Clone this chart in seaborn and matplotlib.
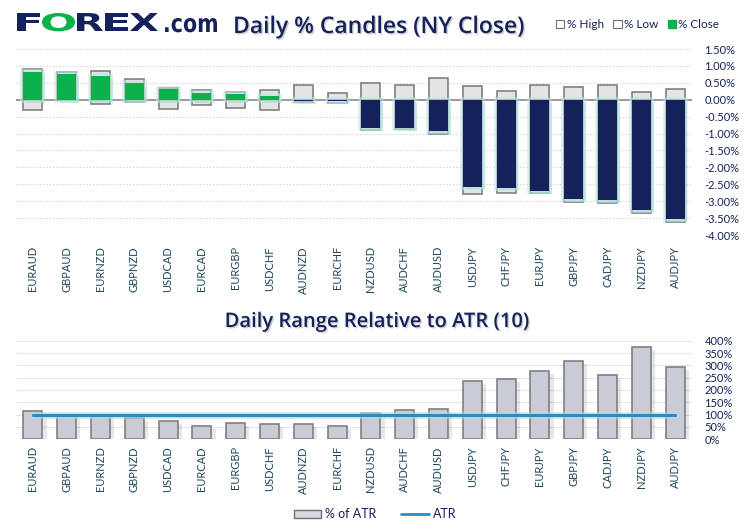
import numpy as np
import pandas as pd
import matplotlib
matplotlib.use("Agg")
import matplotlib.pyplot as plt
import matplotlib.patheffects as pe
from matplotlib.patches import Patch, PathPatch
from matplotlib.lines import Line2D
from matplotlib.textpath import TextPath
from matplotlib.font_manager import FontProperties
from matplotlib.transforms import Affine2D, IdentityTransform
import seaborn as sns

# -----------------------------
# Data
# -----------------------------
pairs = ["EURAUD", "GBPAUD", "EURNZD", "GBPNZD", "USDCAD", "EURCAD", "EURGBP",
         "USDCHF", "AUDNZD", "EURCHF", "NZDUSD", "AUDCHF", "AUDUSD", "USDJPY",
         "CHFJPY", "EURJPY", "GBPJPY", "CADJPY", "NZDJPY", "AUDJPY"]
pct_high = [0.92, 0.83, 0.86, 0.62, 0.36, 0.30, 0.24, 0.30, 0.44, 0.21,
            0.50, 0.44, 0.65, 0.41, 0.26, 0.44, 0.39, 0.44, 0.24, 0.33]
pct_low = [-0.30, -0.02, -0.12, -0.06, -0.27, -0.15, -0.24, -0.30, -0.06, -0.11,
           -0.89, -0.86, -1.01, -2.79, -2.77, -2.76, -3.01, -3.05, -3.35, -3.61]
pct_close = [0.83, 0.75, 0.70, 0.50, 0.33, 0.21, 0.17, 0.11, -0.04, -0.04,
             -0.84, -0.84, -0.92, -2.57, -2.60, -2.71, -2.94, -2.96, -3.25, -3.53]
pct_of_atr = [115, 100, 98, 85, 75, 55, 67, 63, 63, 55,
              107, 117, 122, 235, 243, 276, 316, 259, 373, 292]
atr_level = 100

top_ticks = np.arange(-4.0, 1.51, 0.5)
bottom_ticks = np.arange(0, 401, 50)

NAVY = "#14215a"
GREEN = "#0db14b"
TEAL_TXT = "#1d4658"
BOX_FILL = "#e4e4e4"
BOX_EDGE = "#808080"
ATR_BAR = "#c9cbd6"
ATR_LINE = "#2b8cc4"

W, H = 745, 532

sns.set_theme(style="white")
plt.rcParams["font.family"] = ["Lato", "DejaVu Sans"]

df = pd.DataFrame({"pair": pairs, "high": pct_high, "low": pct_low,
                   "close": pct_close, "atr": pct_of_atr})
df["dir"] = np.where(df["close"] >= 0, "up", "down")

fig = plt.figure(figsize=(W / 100, H / 100), dpi=100)
ax1 = fig.add_axes([16 / W, 1 - 235 / H, 676 / W, 186 / H])
ax2 = fig.add_axes([16 / W, 1 - 439.3 / H, 676 / W, 98.6 / H])

# -----------------------------
# Top: daily % candles
# -----------------------------
bw = 0.56
for col in ["high", "low"]:
    sns.barplot(data=df, x="pair", y=col, ax=ax1, color=BOX_FILL, width=bw,
                edgecolor=BOX_EDGE, linewidth=1.2, saturation=1, errorbar=None)
n_box = len(ax1.patches)
sns.barplot(data=df, x="pair", y="close", hue="dir", ax=ax1,
            palette={"up": GREEN, "down": NAVY}, width=bw, dodge=False,
            linewidth=0, saturation=1, errorbar=None, legend=False)
glow = [pe.SimplePatchShadow(offset=(2, -2), shadow_rgbFace="#7ccfc4", alpha=0.45),
        pe.withStroke(linewidth=4, foreground="#bfe7e1", alpha=0.6), pe.Normal()]
for p in ax1.patches[n_box:]:
    p.set_path_effects(glow)

ax1.axhline(0, color="#808080", lw=1.1, zorder=0.5)
ax1.set_ylim(-4.0, 1.5)
ax1.set_xlim(-0.5, len(pairs) - 0.5)
ax1.set_yticks(top_ticks)
ax1.set_yticklabels([f"{v:.2f}%" for v in top_ticks])
ax1.yaxis.tick_right()
for v in top_ticks:
    if abs(v) > 1e-9:
        ax1.axhline(v, color="#c8c8c8", lw=0.8, ls=(0, (1, 2)), zorder=0)
ax1.tick_params(axis="y", length=0, pad=9, labelsize=8, labelcolor=NAVY)
ax1.tick_params(axis="x", length=0, pad=8, labelsize=8, labelcolor=TEAL_TXT,
                labelrotation=90)
ax1.set_xlabel("")
ax1.set_ylabel("")
for s in ax1.spines.values():
    s.set_visible(False)

# -----------------------------
# Bottom: range relative to ATR
# -----------------------------
sns.barplot(data=df, x="pair", y="atr", ax=ax2, color=ATR_BAR, width=bw,
            edgecolor=BOX_EDGE, linewidth=1.2, saturation=1, errorbar=None)
for p in ax2.patches:
    p.set_path_effects([pe.SimplePatchShadow(offset=(3, -2), alpha=0.12), pe.Normal()])
sns.lineplot(x=np.arange(len(pairs)), y=[atr_level] * len(pairs), ax=ax2,
             color=ATR_LINE, lw=2.2, zorder=5,
             path_effects=[pe.withStroke(linewidth=5, foreground="#bcd9ea", alpha=0.6), pe.Normal()])
ax2.set_ylim(0, 400)
ax2.set_xlim(-0.5, len(pairs) - 0.5)
ax2.set_yticks(bottom_ticks)
ax2.set_yticklabels([f"{v:d}%" for v in bottom_ticks])
ax2.yaxis.tick_right()
ax2.grid(axis="y", color="#e6e6e6", lw=0.8)
ax2.set_axisbelow(True)
ax2.tick_params(axis="y", length=0, pad=9, labelsize=8, labelcolor=NAVY)
ax2.tick_params(axis="x", length=0, pad=5, labelsize=8, labelcolor=TEAL_TXT,
                labelrotation=90)
ax2.set_xlabel("")
ax2.set_ylabel("")
for s in ax2.spines.values():
    s.set_visible(False)

# -----------------------------
# Logo: letters stretched into their boxes (pixel coords, top-left origin)
# -----------------------------
logo_font = FontProperties(family="DejaVu Sans", weight="bold")


def logo_glyph(text, x0, x1, y_top, y_base, colour):
    tp = TextPath((0, 0), text, size=30, prop=logo_font)
    ext = tp.get_extents()
    sx = (x1 - x0) / ext.width
    sy = (y_base - y_top) / ext.ymax
    tr = Affine2D().translate(-ext.x0, 0).scale(sx, sy).translate(x0, H - y_base)
    fig.patches.append(PathPatch(tr.transform_path(tp), facecolor=colour, lw=0,
                                 transform=IdentityTransform(), figure=fig))


logo_glyph("F", 17, 40, 13, 31, NAVY)
logo_glyph("O", 42, 75, 13, 31, GREEN)
logo_glyph("R", 77, 103, 13, 31, NAVY)
logo_glyph("E", 105, 128, 13, 31, NAVY)
logo_glyph("X", 130, 158, 13, 31, NAVY)
logo_glyph(".com", 165, 217, 18, 32, NAVY)

# -----------------------------
# Titles, legends
# -----------------------------
shadow = [pe.withSimplePatchShadow(offset=(1, -1), alpha=0.2)]
fig.text(233 / W, 1 - 27 / H, "Daily % Candles (NY Close)", ha="left",
         va="center", fontsize=16.5, fontweight="semibold", color=NAVY,
         family=["Open Sans", "DejaVu Sans"], path_effects=shadow)
fig.text(377 / W, 1 - 322 / H, "Daily Range Relative to ATR (10)", ha="center",
         va="center", fontsize=14.5, fontweight="semibold", color=NAVY,
         family=["Open Sans", "DejaVu Sans"], path_effects=shadow)

top_handles = [Patch(facecolor="white", edgecolor="#707070", lw=0.8, label="% High"),
               Patch(facecolor="white", edgecolor="#707070", lw=0.8, label="% Low"),
               Patch(facecolor=GREEN, edgecolor=GREEN, label="% Close")]
fig.legend(handles=top_handles, loc="center right", bbox_to_anchor=(730 / W, 1 - 25 / H),
           ncol=3, frameon=False, fontsize=8.5, handlelength=0.7, handleheight=0.7,
           handletextpad=0.2, columnspacing=0.8, labelcolor=NAVY)

bot_handles = [Patch(facecolor="#d8d9e2", edgecolor="#707070", lw=1, label="% of ATR"),
               Line2D([0], [0], color=ATR_LINE, lw=2, label="ATR")]
fig.legend(handles=bot_handles, loc="center", bbox_to_anchor=(375 / W, 1 - 514 / H),
           ncol=2, frameon=False, fontsize=9, handlelength=2.2, handleheight=0.6,
           handletextpad=0.3, columnspacing=2.0, labelcolor=NAVY)

fig.savefig("out.png", dpi=100)
